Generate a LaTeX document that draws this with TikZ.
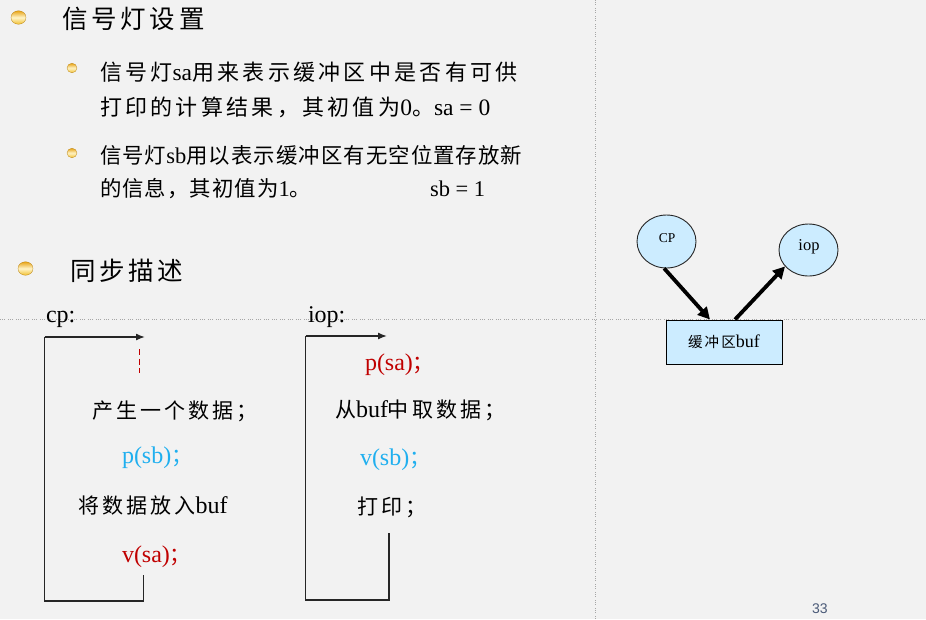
\documentclass[tikz,border=0pt]{standalone}
\usepackage{fontspec}
\setmainfont{Liberation Serif}
\newfontfamily\cjkA[LetterSpace=15]{Noto Sans CJK SC}
\newfontfamily\cjkB[LetterSpace=5]{Noto Sans CJK SC}
\newfontfamily\numfont{Liberation Sans}
\usetikzlibrary{shapes.geometric,arrows.meta}
\definecolor{bgc}{HTML}{F2F2F2}
\definecolor{redc}{HTML}{C00000}
\definecolor{bluec}{HTML}{1FAFEF}
\definecolor{fillc}{HTML}{CCECFF}
\definecolor{guidec}{HTML}{A6A6A6}
\definecolor{pagec}{HTML}{4A5A78}
\definecolor{goldtop}{HTML}{E8A417}
\definecolor{goldmid}{HTML}{FFF4C8}
\definecolor{goldbot}{HTML}{F2C030}
\newcommand\zhs{21}
\let\zhf\cjkA
\newcommand\zh[1]{{\zhf\fontsize{\zhs}{\zhs}\selectfont #1}}
\tikzset{
  txt/.style={anchor=base west, inner sep=0pt, outer sep=0pt},
  titlef/.style={font=\fontsize{25}{30}\selectfont\def\zhs{25.5}\let\zhf\cjkA},
  subA/.style={font=\fontsize{23.5}{28}\selectfont\def\zhs{22}\let\zhf\cjkA},
  subB/.style={font=\fontsize{22.5}{28}\selectfont\def\zhs{21.4}\let\zhf\cjkB},
  loopf/.style={font=\fontsize{24}{28}\selectfont\def\zhs{21}\let\zhf\cjkA},
  bulletL/.style={ellipse, inner sep=0pt, minimum width=15pt, minimum height=13.5pt,
    draw=goldtop!80!black, line width=0.3pt,
    top color=goldtop, bottom color=goldbot, middle color=goldmid},
  bulletS/.style={bulletL, minimum width=10pt, minimum height=9.5pt},
  guide/.style={guidec, line width=1pt, dash pattern=on 1pt off 1pt on 1pt off 1pt on 1pt off 3pt},
  loopline/.style={black!85, line width=1.4pt},
  looparrow/.style={loopline, -{Latex[length=9pt,width=7pt]}},
  bubble/.style={ellipse, draw=black!85, line width=0.9pt, fill=fillc, inner sep=0pt},
  bigarrow/.style={black, line width=3.8pt, -{Triangle[length=12pt,width=12pt]}},
}
\begin{document}
\begin{tikzpicture}[x=1pt,y=-1pt]
\useasboundingbox (0,0) rectangle (926,619);
\fill[bgc] (0,0) rectangle (926,619);
% guides
\draw[guide] (595,0) -- (595,619);
\draw[guide] (0,319) -- (926,319);

% section 1
\node[bulletL] (bl1) at (18.5,17.5) {};
\node[txt, titlef] (title1) at (62,28) {\zh{信号灯设置}};
\node[bulletS] (bs1) at (72,68) {};
\node[txt, subA] (l1) at (100,80.5) {\zh{信号灯}sa\zh{用来表示缓冲区中是否有可供}};
\node[txt, subA] (l2) at (100,115.5) {\zh{打印的计算结果，其初值为}0\zh{。}sa = 0};
\node[bulletS] (bs2) at (72,153) {};
\node[txt, subB] (l3) at (100,163.5) {\zh{信号灯}sb\zh{用以表示缓冲区有无空位置存放新}};
\node[txt, subB] (l4) at (100,196.5) {\zh{的信息，其初值为}1\zh{。}};
\node[txt, subB] (l5) at (430,196.5) {sb = 1};

% section 2
\node[bulletL] (bl2) at (25.5,268.5) {};
\node[txt, titlef] (title2) at (70,280) {\zh{同步描述}};
\node[txt, loopf] (cplab) at (46,322) {cp:};
\node[txt, loopf] (ioplab) at (308,322) {iop:};

% cp loop
\coordinate (c1) at (44.5,337);
\coordinate (c2) at (145,337);
\coordinate (c3) at (44.5,601);
\coordinate (c4) at (143.5,601);
\coordinate (c5) at (143.5,575);
\draw[looparrow] (c1) -- (c2);
\draw[loopline] (c1) -- (c3) -- (c4) -- (c5);
\coordinate (d1) at (139.5,349);
\coordinate (d2) at (139.5,373);
\draw[redc, line width=1.6pt, dash pattern=on 6pt off 3.5pt] (d1) -- (d2);

\node[txt, loopf] (cpa) at (92,418.5) {\zh{产生一个数据；}};
\node[txt, loopf, text=bluec] (cpb) at (122,463) {p(sb)\zh{；}};
\node[txt, loopf] (cpc) at (78,513) {\zh{将数据放入}buf};
\node[txt, loopf, text=redc] (cpd) at (122,562) {v(sa)\zh{；}};

% iop loop
\coordinate (i1) at (305.5,336);
\coordinate (i2) at (387,336);
\coordinate (i3) at (305.5,600);
\coordinate (i4) at (389,600);
\coordinate (i5) at (389,533);
\draw[looparrow] (i1) -- (i2);
\draw[loopline] (i1) -- (i3) -- (i4) -- (i5);

\node[txt, loopf, text=redc] (ioa) at (365,370) {p(sa)\zh{；}};
\node[txt, loopf] (iob) at (335,417) {\zh{从}buf\zh{中取数据；}};
\node[txt, loopf, text=bluec] (ioc) at (360,465) {v(sb)\zh{；}};
\node[txt, loopf] (iod) at (357,514) {\zh{打印；}};

% right diagram
\node[bubble, minimum width=59pt, minimum height=53pt] (cp) at (666.5,241.5) {};
\node[font=\fontsize{13.5}{16}\selectfont, inner sep=0pt] (cptext) at (667,238) {CP};
\node[bubble, minimum width=59pt, minimum height=52pt] (iop) at (808.5,250) {};
\node[font=\fontsize{16.5}{20}\selectfont, inner sep=0pt] (ioptext) at (809,247) {iop};
\node[draw=black, line width=1pt, fill=fillc, minimum width=116pt, minimum height=44pt, inner sep=0pt,
      font=\fontsize{18}{22}\selectfont\def\zhs{14.5}\let\zhf\cjkA] (buf) at (724,342) {\zh{缓冲区}buf};
\coordinate (b1) at ([xshift=-14pt]buf.north);
\coordinate (b2) at ([xshift=11pt]buf.north);
\draw[bigarrow] (cp.265) -- (b1);
\draw[bigarrow] (b2) -- (iop.215);

% page number
\node[anchor=north west, inner sep=0pt, text=pagec, font=\numfont\fontsize{14}{16}\selectfont] (page) at (812,604) {33};
\end{tikzpicture}
\end{document}
